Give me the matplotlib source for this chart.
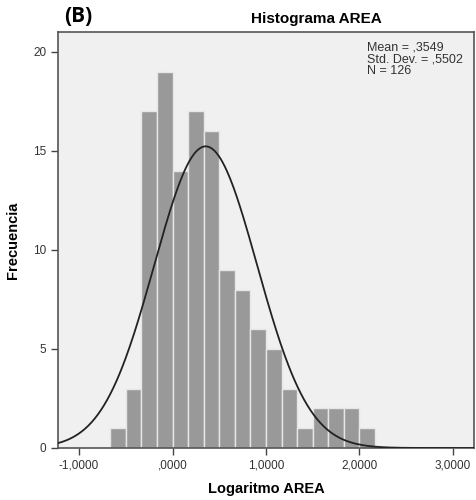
import numpy as np
import matplotlib
matplotlib.use("Agg")
import matplotlib.pyplot as plt

plt.rcParams['font.family'] = ['Liberation Sans', 'DejaVu Sans']

# histogram bins (width 1/6) and counts
bin_start = -2 / 3
bin_width = 1 / 6
counts = [1, 3, 17, 19, 14, 17, 16, 9, 8, 6, 5, 3, 1, 2, 2, 2, 1]

mean = 0.3549
std = 0.5502
n = 126

xticks = [-1, 0, 1, 2, 3]
xtick_labels = ["-1,0000", ",0000", "1,0000", "2,0000", "3,0000"]
yticks = [0, 5, 10, 15, 20]

edges = bin_start + bin_width * np.arange(len(counts) + 1)

fig = plt.figure(figsize=(4.77, 5.0), dpi=100)
ax = fig.add_axes([0.1216, 0.104, 0.872, 0.832])
ax.set_facecolor("#f0f0f0")

ax.bar(edges[:-1], counts, width=bin_width, align="edge",
       color="#999999", edgecolor="#e6e6e6", linewidth=1.0, zorder=2)

# normal curve scaled to the histogram
xs = np.linspace(-1.225, 3.225, 400)
ys = n * bin_width / (std * np.sqrt(2 * np.pi)) * np.exp(-0.5 * ((xs - mean) / std) ** 2)
ax.plot(xs, ys, color="#222222", linewidth=1.3, zorder=3)

ax.set_xlim(-1.225, 3.225)
ax.set_ylim(0, 21)
ax.set_xticks(xticks)
ax.set_xticklabels(xtick_labels)
ax.set_yticks(yticks)
ax.tick_params(axis="both", direction="out", length=5, width=1,
               color="#444444", labelsize=8.5, labelcolor="#333333")
for s in ax.spines.values():
    s.set_color("#555555")
    s.set_linewidth(1.2)

ax.set_xlabel("Logaritmo AREA", fontsize=10.5, fontweight="bold", labelpad=7)
ax.set_ylabel("Frecuencia", fontsize=10.5, fontweight="bold", labelpad=9)

ax.text(0.743, 0.977, "Mean = ,3549\nStd. Dev. = ,5502\nN = %d" % n,
        transform=ax.transAxes, ha="left", va="top", fontsize=9,
        color="#333333", linespacing=0.95)

fig.text(0.663, 0.961, "Histograma AREA", ha="center", va="center",
         fontsize=11, fontweight="bold")
fig.text(0.135, 0.967, "(B)", ha="left", va="center",
         fontsize=15, fontweight="bold", family=["Open Sans", "DejaVu Sans"])

fig.savefig("out.png", dpi=100)
